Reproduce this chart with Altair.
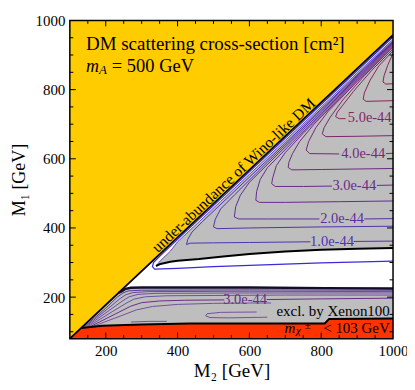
import altair as alt
import pandas as pd

W, H = 324, 319
SERIF = "Liberation Serif, DejaVu Serif, serif"

X_DOMAIN = [100, 1000]
Y_DOMAIN = [80, 1000]

# ---------------- regions (M2, M1 in GeV) ----------------
# under-abundance of Wino-like DM (yellow) boundary
diag_m2 = [100, 1000]
diag_m1 = [80, 958]
yellow_top = [1000, 1000]

# upper grey region (excluded by direct detection)
up_m2 = [340, 352, 380, 400, 460, 520, 600, 700, 800, 900, 1000]
up_lo = [290, 296, 302, 305, 310, 317, 325, 332, 337, 340, 342]
up_hi = [290, 305, 333, 360, 418, 477, 555, 653, 750, 848, 945]

# lower grey region (excl. by Xenon100)
low_m2 = [132, 190, 235, 245, 255, 270, 300, 433, 600, 810, 822, 1000]
low_lo = [111, 117, 119, 119, 120, 120, 121, 124, 124, 124, 137, 138]
low_hi = [111, 168, 212, 217, 224, 227, 228, 228, 228, 226, 226, 225]

# chargino bound (red)
red_m2 = [100, 132, 190, 300, 433, 810, 822, 1000]
red_top = [80, 111, 117, 121, 124, 124, 137, 138]

# ---------------- contour lines ----------------
contours = [
    ("c10a", "#4f30b8", [1000, 800, 600, 470, 440, 428, 425, 435, 500, 600, 770],
     [941, 744, 547, 419, 388, 366, 352, 356, 357, 358, 360]),
    ("c10b", "#4f30b8", [890, 1000], [361, 362]),
    ("c15", "#5630a8", [1000, 800, 650, 560, 520, 505, 500, 510, 600, 800, 1000],
     [939, 740, 590, 497, 455, 425, 403, 398, 400, 403, 405]),
    ("c20a", "#5c2e9e", [1000, 800, 680, 600, 575, 562, 558, 570, 650, 795],
     [937, 735, 614, 532, 495, 462, 432, 426, 426, 426]),
    ("c20b", "#5c2e9e", [920, 1000], [426, 427]),
    ("c25", "#622c94", [1000, 850, 720, 650, 630, 620, 618, 628, 700, 850, 1000],
     [935, 782, 648, 574, 540, 505, 480, 474, 474, 476, 478]),
    ("c30a", "#682b8a", [1000, 850, 750, 700, 675, 665, 662, 672, 750, 830],
     [933, 778, 674, 618, 580, 545, 528, 520, 520, 521]),
    ("c30b", "#682b8a", [955, 1000], [523, 524]),
    ("c35", "#6e2a80", [1000, 880, 780, 740, 720, 710, 708, 718, 800, 1000],
     [930, 806, 700, 650, 615, 590, 575, 568, 569, 572]),
    ("c40a", "#742977", [1000, 900, 820, 785, 765, 758, 768, 850],
     [927, 823, 738, 690, 650, 625, 615, 614]),
    ("c40b", "#742977", [980, 1000], [615, 616]),
    ("c45", "#7a286d", [1000, 920, 860, 825, 808, 803, 813, 900, 1000],
     [923, 840, 770, 720, 690, 672, 664, 665, 667]),
    ("c50", "#802763", [1000, 940, 890, 860, 845, 840, 850, 868],
     [918, 855, 795, 755, 735, 722, 716, 716]),
    ("c55", "#862659", [1000, 960, 935, 920, 917, 925, 1000],
     [912, 868, 825, 790, 772, 766, 768]),
    ("c60", "#8b2550", [1000, 985, 975, 972, 980, 1000],
     [905, 870, 840, 822, 816, 817]),
    # lower region
    ("l1", "#5a3a9a", [140, 200, 232, 248, 262, 300, 600, 1000],
     [114, 168, 200, 212, 218, 220, 221, 220]),
    ("l2", "#6a4a9e", [143, 205, 240, 256, 275, 320, 600, 1000],
     [114, 166, 196, 207, 213, 216, 217, 216]),
    ("l3", "#6e4f9e", [146, 210, 248, 265, 290, 340, 600, 1000],
     [114, 162, 190, 201, 208, 211, 212, 212]),
    ("l4", "#6e4f9e", [150, 218, 258, 278, 310, 370, 700, 1000],
     [114, 158, 183, 194, 201, 204, 206, 206]),
    ("l5a", "#6a2b8a", [155, 228, 270, 300, 350, 420, 530],
     [114, 152, 174, 184, 189, 191, 192]),
    ("l5b", "#6a2b8a", [648, 800, 1000], [193, 195, 197]),
    ("l6", "#74509e", [160, 240, 285, 330, 400, 500, 600, 660],
     [114, 145, 163, 173, 179, 182, 183, 183]),
    ("l7", "#74509e", [620, 520, 482, 478, 490, 540, 650],
     [157, 156, 152, 146, 141, 140, 142]),
    ("l8", "#74509e", [270, 320, 370], [128, 130, 130]),
]

# thin blue line in the white strip
blue_m2 = [1000, 600, 400, 345, 333, 330, 336, 400, 500, 600, 800, 1000]
blue_m1 = [952, 562, 367, 313, 300, 288, 281, 283, 288, 292, 299, 304]

# black boundaries
lowtop_m2 = [235, 245, 255, 270, 300, 433, 600, 810, 1000]
lowtop_m1 = [212, 217, 224, 227, 228, 228, 228, 226, 225]

# contour labels
lab_txt = ["1.0e-44", "2.0e-44", "3.0e-44", "4.0e-44", "5.0e-44", "3.0e-44"]
lab_m2 = [830, 858, 892, 917, 935, 588]
lab_m1 = [360, 426, 522, 614, 718, 192]
lab_col = ["#4f30b8", "#5c2e9e", "#682b8a", "#742977", "#802763", "#6a2b8a"]

# ticks
x_major = [200, 400, 600, 800]
x_minor = [150, 250, 300, 350, 450, 500, 550, 650, 700, 750, 850, 900, 950]
y_major = [200, 400, 600, 800]
y_minor = [100, 150, 250, 300, 350, 450, 500, 550, 650, 700, 750, 850, 900, 950]

xs = alt.Scale(domain=X_DOMAIN, nice=False, zero=False)
ys = alt.Scale(domain=Y_DOMAIN, nice=False, zero=False)

xaxis = alt.Axis(title="M₂ [GeV]", values=[200, 400, 600, 800, 1000], format="d",
                 ticks=False, domain=False, grid=False, labelFont=SERIF,
                 labelFontSize=15, labelPadding=5, labelFlush=False, labelColor="black",
                 titleFont=SERIF, titleFontSize=19, titleFontWeight="normal",
                 titleColor="black", titlePadding=3)
yaxis = alt.Axis(title="M₁ [GeV]", values=[200, 400, 600, 800, 1000], format="d",
                 ticks=False, domain=False, grid=False, labelFont=SERIF,
                 labelFontSize=15, labelPadding=5, labelFlush=False, labelColor="black",
                 titleFont=SERIF, titleFontSize=18, titleFontWeight="normal",
                 titleColor="black", titlePadding=6)


def X(f="m2"):
    return alt.X(f"{f}:Q", scale=xs, axis=xaxis, title="M₂ [GeV]")


def Y(f="m1"):
    return alt.Y(f"{f}:Q", scale=ys, axis=yaxis, title="M₁ [GeV]")


yellow = alt.Chart(pd.DataFrame({"m2": diag_m2, "lo": diag_m1, "hi": yellow_top})).mark_area(
    color="#FFCC00", clip=True).encode(x=X(), y=Y("lo"), y2="hi:Q")

grey_up = alt.Chart(pd.DataFrame({"m2": up_m2, "lo": up_lo, "hi": up_hi})).mark_area(
    color="#BEBEBE", clip=True).encode(x=X(), y=Y("lo"), y2="hi:Q")
grey_low = alt.Chart(pd.DataFrame({"m2": low_m2, "lo": low_lo, "hi": low_hi})).mark_area(
    color="#BEBEBE", clip=True).encode(x=X(), y=Y("lo"), y2="hi:Q")
red = alt.Chart(pd.DataFrame({"m2": red_m2, "lo": [Y_DOMAIN[0]] * len(red_m2), "hi": red_top})).mark_area(
    color="#FF3300", clip=True).encode(x=X(), y=Y("lo"), y2="hi:Q")

rows = []
for name, col, a, b in contours:
    for i, (p, q) in enumerate(zip(a, b)):
        rows.append({"seg": name, "ord": i, "m2": p, "m1": q, "col": col})
cdf = pd.DataFrame(rows)
clines = alt.Chart(cdf).mark_line(strokeWidth=1, clip=True).encode(
    x=X(), y=Y(), detail="seg:N", order="ord:Q", color=alt.Color("col:N", scale=None))

edge = alt.Chart(pd.DataFrame({"m2": up_m2, "m1": up_hi})).mark_line(
    color="#6a48b0", strokeWidth=1, clip=True).encode(x=X(), y=Y())

blue = alt.Chart(pd.DataFrame({"m2": blue_m2, "m1": blue_m1, "o": list(range(len(blue_m2)))})).mark_line(
    color="#3b2ad8", strokeWidth=1.2, clip=True).encode(x=X(), y=Y(), order="o:Q")


def black_line(a, b, w, col="black"):
    return alt.Chart(pd.DataFrame({"m2": a, "m1": b, "o": list(range(len(a)))})).mark_line(
        color=col, strokeWidth=w, clip=True).encode(x=X(), y=Y(), order="o:Q")


blk = [
    black_line(diag_m2, diag_m1, 1.8),
    black_line(up_m2, up_lo, 2.0),
    black_line(lowtop_m2, lowtop_m1, 2.4, "#140c2c"),
    black_line(red_m2[1:], red_top[1:], 2.0),
]

labels = alt.Chart(pd.DataFrame({"m2": lab_m2, "m1": lab_m1, "t": lab_txt, "col": lab_col})).mark_text(
    font=SERIF, fontSize=14.5, align="center", baseline="middle").encode(
    x=X(), y=Y(), text="t:N", color=alt.Color("col:N", scale=None))


def txt(t, m2, m1, size, align="left", baseline="alphabetic", style="normal", angle=0):
    return alt.Chart(pd.DataFrame({"m2": [m2], "m1": [m1], "t": [t]})).mark_text(
        font=SERIF, fontSize=size, align=align, baseline=baseline, fontStyle=style,
        angle=angle, color="black").encode(x=X(), y=Y(), text="t:N")


texts = [
    txt("DM scattering cross-section [cm²]", 145, 914, 19),
    txt("m", 145, 852, 18, style="italic"),
    txt("A", 181, 845, 13, style="italic"),
    txt("= 500 GeV", 217, 852, 18.5),
    txt("under-abundance of Wino-like DM", 556, 552, 15.5, align="center",
        baseline="middle", angle=316.8),
    txt("excl. by Xenon100", 991, 161, 15, align="right", baseline="middle"),
    txt("m", 698, 110, 15, baseline="middle", style="italic"),
    txt("χ", 730, 102, 11, baseline="middle", style="italic"),
    txt("±", 754, 116, 11, baseline="middle"),
    txt("< 103 GeV", 991, 110, 15, align="right", baseline="middle"),
]

ticks = []
for vals, ln in ((x_major, 6), (x_minor, 3.5)):
    d = pd.DataFrame({"v": vals})
    ticks.append(alt.Chart(d).mark_rule(color="black", strokeWidth=1).encode(
        x=X("v"), y=alt.value(H), y2=alt.value(H - ln)))
    ticks.append(alt.Chart(d).mark_rule(color="black", strokeWidth=1).encode(
        x=X("v"), y=alt.value(0), y2=alt.value(ln)))
for vals, ln in ((y_major, 6), (y_minor, 3.5)):
    d = pd.DataFrame({"v": vals})
    ticks.append(alt.Chart(d).mark_rule(color="black", strokeWidth=1).encode(
        y=Y("v"), x=alt.value(0), x2=alt.value(ln)))
    ticks.append(alt.Chart(d).mark_rule(color="black", strokeWidth=1).encode(
        y=Y("v"), x=alt.value(W), x2=alt.value(W - ln)))

border = alt.Chart(pd.DataFrame({"a": [0]})).mark_rect(
    filled=False, stroke="black", strokeWidth=1.5).encode(
    x=alt.value(0), x2=alt.value(W), y=alt.value(0), y2=alt.value(H))

chart = alt.layer(yellow, grey_up, grey_low, red, clines, edge, blue, *blk, labels,
                  *texts, *ticks, border).properties(
    width=W, height=H, background="white",
    autosize=alt.AutoSizeParams(type="none"),
    padding={"left": 62, "top": 12, "right": 14, "bottom": 42}
).configure_view(stroke=None)

chart.save("out.html", embed_options={"renderer": "svg", "actions": False})
